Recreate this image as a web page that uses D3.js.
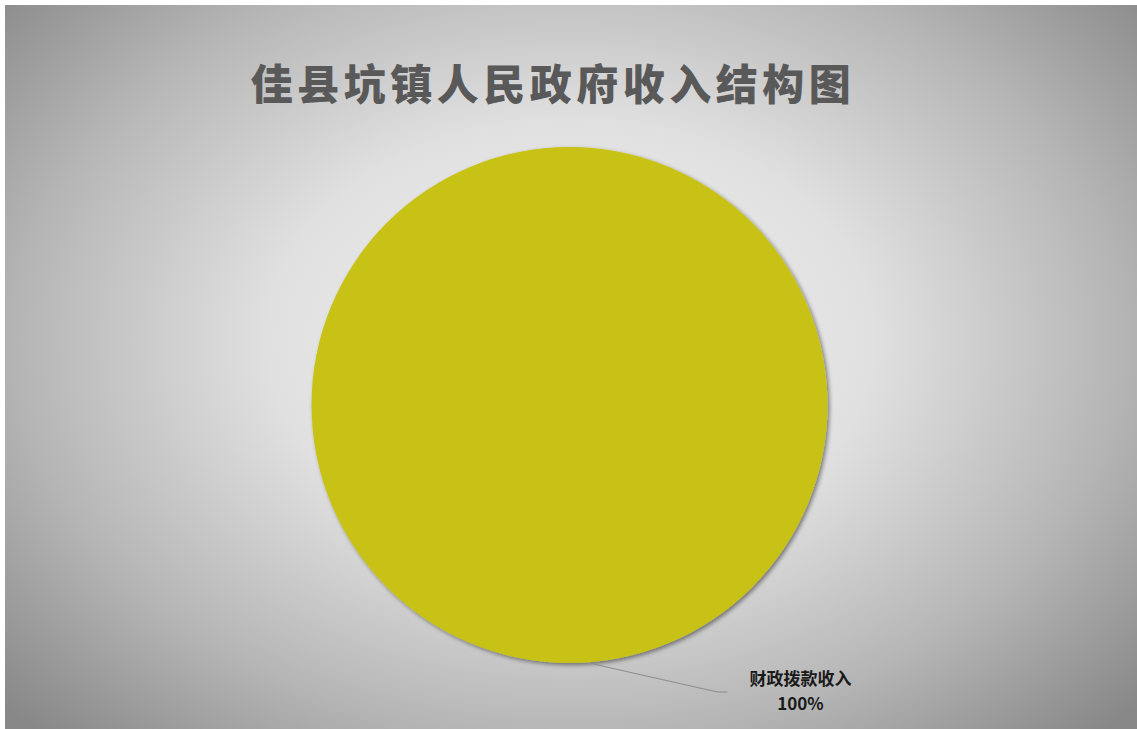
<!DOCTYPE html>
<meta charset="utf-8">
<html>
<head>
<title>佳县坑镇人民政府收入结构图</title>
<style>
  body { margin: 0; background: #fff; }
  svg { display: block; }
</style>
</head>
<body>
<div id="chart"></div>
<script src="https://d3js.org/d3.v7.min.js"></script>
<script>
// data
var categories = ["财政拨款收入"];
var values = [100];
var colors = ["#c8c216"];
var titleText = "佳县坑镇人民政府收入结构图";

var width = 1137, height = 729;
var cx = 569.5, cy = 405, radius = 258;

var svg = d3.select("#chart").append("svg")
  .attr("width", width)
  .attr("height", height);

var defs = svg.append("defs");
var grad = defs.append("radialGradient")
  .attr("id", "bg")
  .attr("gradientUnits", "userSpaceOnUse")
  .attr("cx", 570).attr("cy", 340)
  .attr("r", 760)
  .attr("gradientTransform", "translate(570,340) scale(1,0.72) translate(-570,-340)");
grad.append("stop").attr("offset", "0%").attr("stop-color", "#f2f2f2");
grad.append("stop").attr("offset", "40%").attr("stop-color", "#e0e0e0");
grad.append("stop").attr("offset", "72%").attr("stop-color", "#b6b6b6");
grad.append("stop").attr("offset", "100%").attr("stop-color", "#888888");

var shadow = defs.append("filter").attr("id", "shadow")
  .attr("x", "-10%").attr("y", "-10%").attr("width", "120%").attr("height", "120%");
shadow.append("feDropShadow")
  .attr("dx", 2).attr("dy", 2).attr("stdDeviation", 2)
  .attr("flood-color", "#000").attr("flood-opacity", 0.45);

// background with white border top/left
svg.append("rect").attr("width", width).attr("height", height).attr("fill", "#fff");
svg.append("rect")
  .attr("x", 5).attr("y", 5)
  .attr("width", width - 5).attr("height", height - 5)
  .attr("fill", "url(#bg)");

// title
svg.append("text")
  .attr("x", 553)
  .attr("y", 100)
  .attr("text-anchor", "middle")
  .style("font-family", "'Noto Sans CJK SC', sans-serif")
  .style("font-weight", 900)
  .style("font-size", "42px")
  .style("letter-spacing", "4.5px")
  .attr("fill", "#595959")
  .text(titleText);

// pie
var pie = d3.pie().sort(null)(values);
var arc = d3.arc().innerRadius(0).outerRadius(radius);

var g = svg.append("g").attr("transform", "translate(" + cx + "," + cy + ")");

g.selectAll("path.slice")
  .data(pie)
  .enter()
  .append("path")
  .attr("class", "slice")
  .attr("d", arc)
  .attr("fill", function(d, i) { return colors[i]; })
  .attr("filter", "url(#shadow)");

// labels with leader line
var total = d3.sum(values);
pie.forEach(function(d, i) {
  var a = (d.startAngle + d.endAngle) / 2 - 0.09; // just right of bottom
  var p0 = [Math.sin(a) * (radius + 2), -Math.cos(a) * (radius + 2)];
  var p1 = [148, 287];
  var p2 = [158, 287];
  g.append("polyline")
    .attr("points", [p0, p1, p2].map(function(p) { return p.join(","); }).join(" "))
    .attr("fill", "none")
    .attr("stroke", "#8c8c8c")
    .attr("stroke-width", 1);

  var t = g.append("text")
    .attr("text-anchor", "middle")
    .style("font-family", "'Noto Sans CJK SC', sans-serif")
    .style("font-weight", 700)
    .style("font-size", "17px")
    .attr("fill", "#1a1a1a");
  t.append("tspan").attr("x", 231).attr("y", 280).text(categories[i]);
  t.append("tspan").attr("x", 231).attr("y", 305)
    .text(Math.round(values[i] / total * 100) + "%");
});
</script>
</body>
</html>
